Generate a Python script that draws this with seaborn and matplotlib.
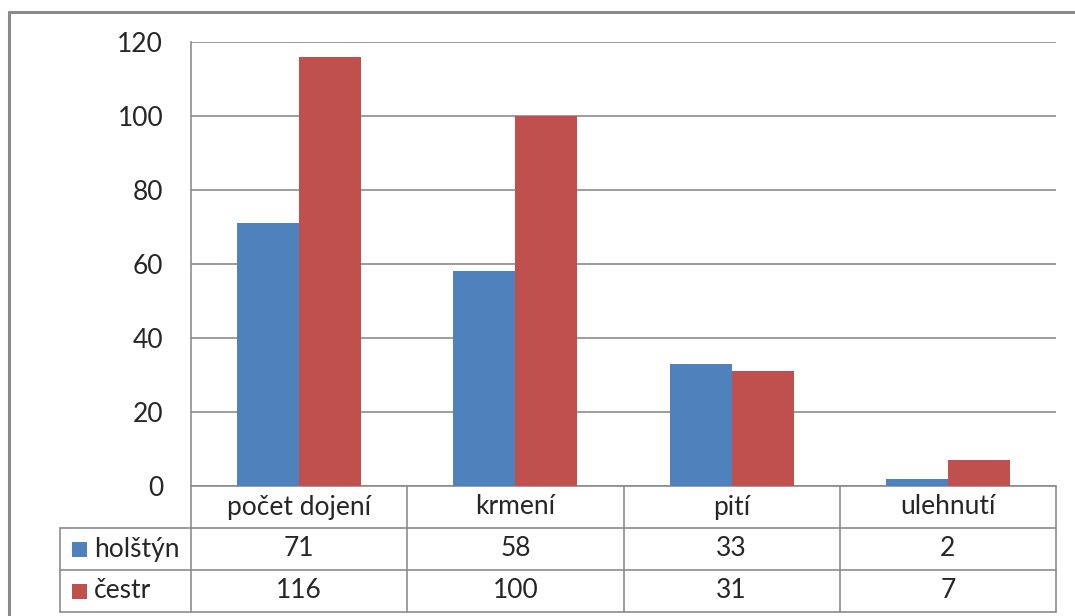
import matplotlib
matplotlib.use("Agg")
import matplotlib.pyplot as plt
import matplotlib.transforms as mtransforms
from matplotlib.lines import Line2D
from matplotlib.patches import Rectangle
import pandas as pd
import seaborn as sns

categories = ["počet dojení", "krmení", "pití", "ulehnutí"]
series_names = ["holštýn", "čestr"]
holstyn = [71, 58, 33, 2]
cestr = [116, 100, 31, 7]
colors = ["#4F81BD", "#C0504D"]
yticks = [0, 20, 40, 60, 80, 100, 120]

sns.set_theme(style="white")
plt.rcParams["font.family"] = ["Lato", "DejaVu Sans"]
FS = 19
TXT_C = "#262626"

W, H = 1075, 616
fig = plt.figure(figsize=(W / 100, H / 100), dpi=100)
fig.patch.set_facecolor("white")

# plot area in pixel terms
left, right, top, bottom = 191, 1056, 42, 486
ax = fig.add_axes([left / W, (H - bottom) / H, (right - left) / W, (bottom - top) / H])

df = pd.DataFrame({
    "kategorie": categories * 2,
    "plemeno": [series_names[0]] * 4 + [series_names[1]] * 4,
    "hodnota": holstyn + cestr,
})
sns.barplot(data=df, x="kategorie", y="hodnota", hue="plemeno",
            order=categories, hue_order=series_names,
            palette=colors, width=0.573, gap=0, saturation=1,
            edgecolor="none", ax=ax, legend=False, zorder=3)

grid_c = "#8C8C8C"
ax.set_ylim(0, 120)
ax.set_xlim(-0.5, len(categories) - 0.5)
ax.set_yticks(yticks)
ax.set_yticklabels([str(t) for t in yticks], fontsize=FS, color=TXT_C)
ax.tick_params(axis="y", length=0, pad=20)
ax.set_xticks([])
ax.set_xlabel("")
ax.set_ylabel("")
ax.yaxis.grid(True, color=grid_c, linewidth=1.2, zorder=0)
ax.set_axisbelow(True)
for s in ["top", "right", "bottom"]:
    ax.spines[s].set_visible(False)
ax.spines["left"].set_color(grid_c)
ax.spines["left"].set_linewidth(1.2)

# data table under the plot: x in data units, y in axes fraction
trans = mtransforms.blended_transform_factory(ax.transData, ax.transAxes)
row_h = 42 / (bottom - top)
x_edges = [i - 0.5 for i in range(len(categories) + 1)]
unit = len(categories) / (right - left)  # data units per pixel
label_left = x_edges[0] - (left - 60) * unit

line_kw = dict(color=grid_c, linewidth=1.2, clip_on=False, transform=trans)
# horizontal lines
ax.add_line(Line2D([x_edges[0], x_edges[-1]], [0, 0], **line_kw))
for r in (1, 2, 3):
    ax.add_line(Line2D([label_left, x_edges[-1]], [-r * row_h, -r * row_h], **line_kw))
# vertical lines
for xe in x_edges:
    ax.add_line(Line2D([xe, xe], [0, -3 * row_h], **line_kw))
ax.add_line(Line2D([label_left, label_left], [-row_h, -3 * row_h], **line_kw))

txt_kw = dict(transform=trans, ha="center", va="center", fontsize=FS,
              color=TXT_C, clip_on=False)
for i, cat in enumerate(categories):
    ax.text(i, -0.5 * row_h, cat, **txt_kw)
    ax.text(i, -1.5 * row_h, str(holstyn[i]), **txt_kw)
    ax.text(i, -2.5 * row_h, str(cestr[i]), **txt_kw)

# legend keys inside the table
for r, (name, c) in enumerate(zip(series_names, colors)):
    yc = -(1.5 + r) * row_h
    ax.add_patch(Rectangle((label_left + 12 * unit, yc - 7.5 / (bottom - top)),
                           15 * unit, 15 / (bottom - top), facecolor=c,
                           edgecolor="none", transform=trans, clip_on=False))
    ax.text(label_left + 34 * unit, yc, name, transform=trans, ha="left",
            va="center", fontsize=FS, color=TXT_C, clip_on=False)

# outer chart frame
frame_c = "#8A8A8A"
fig.add_artist(Line2D([9 / W, 1.0], [1 - 12 / H, 1 - 12 / H], color=frame_c,
                      linewidth=2.2, transform=fig.transFigure))
fig.add_artist(Line2D([9 / W, 9 / W], [1 - 12 / H, 0], color=frame_c,
                      linewidth=2.2, transform=fig.transFigure))

fig.savefig("out.png", dpi=100, facecolor="white")
